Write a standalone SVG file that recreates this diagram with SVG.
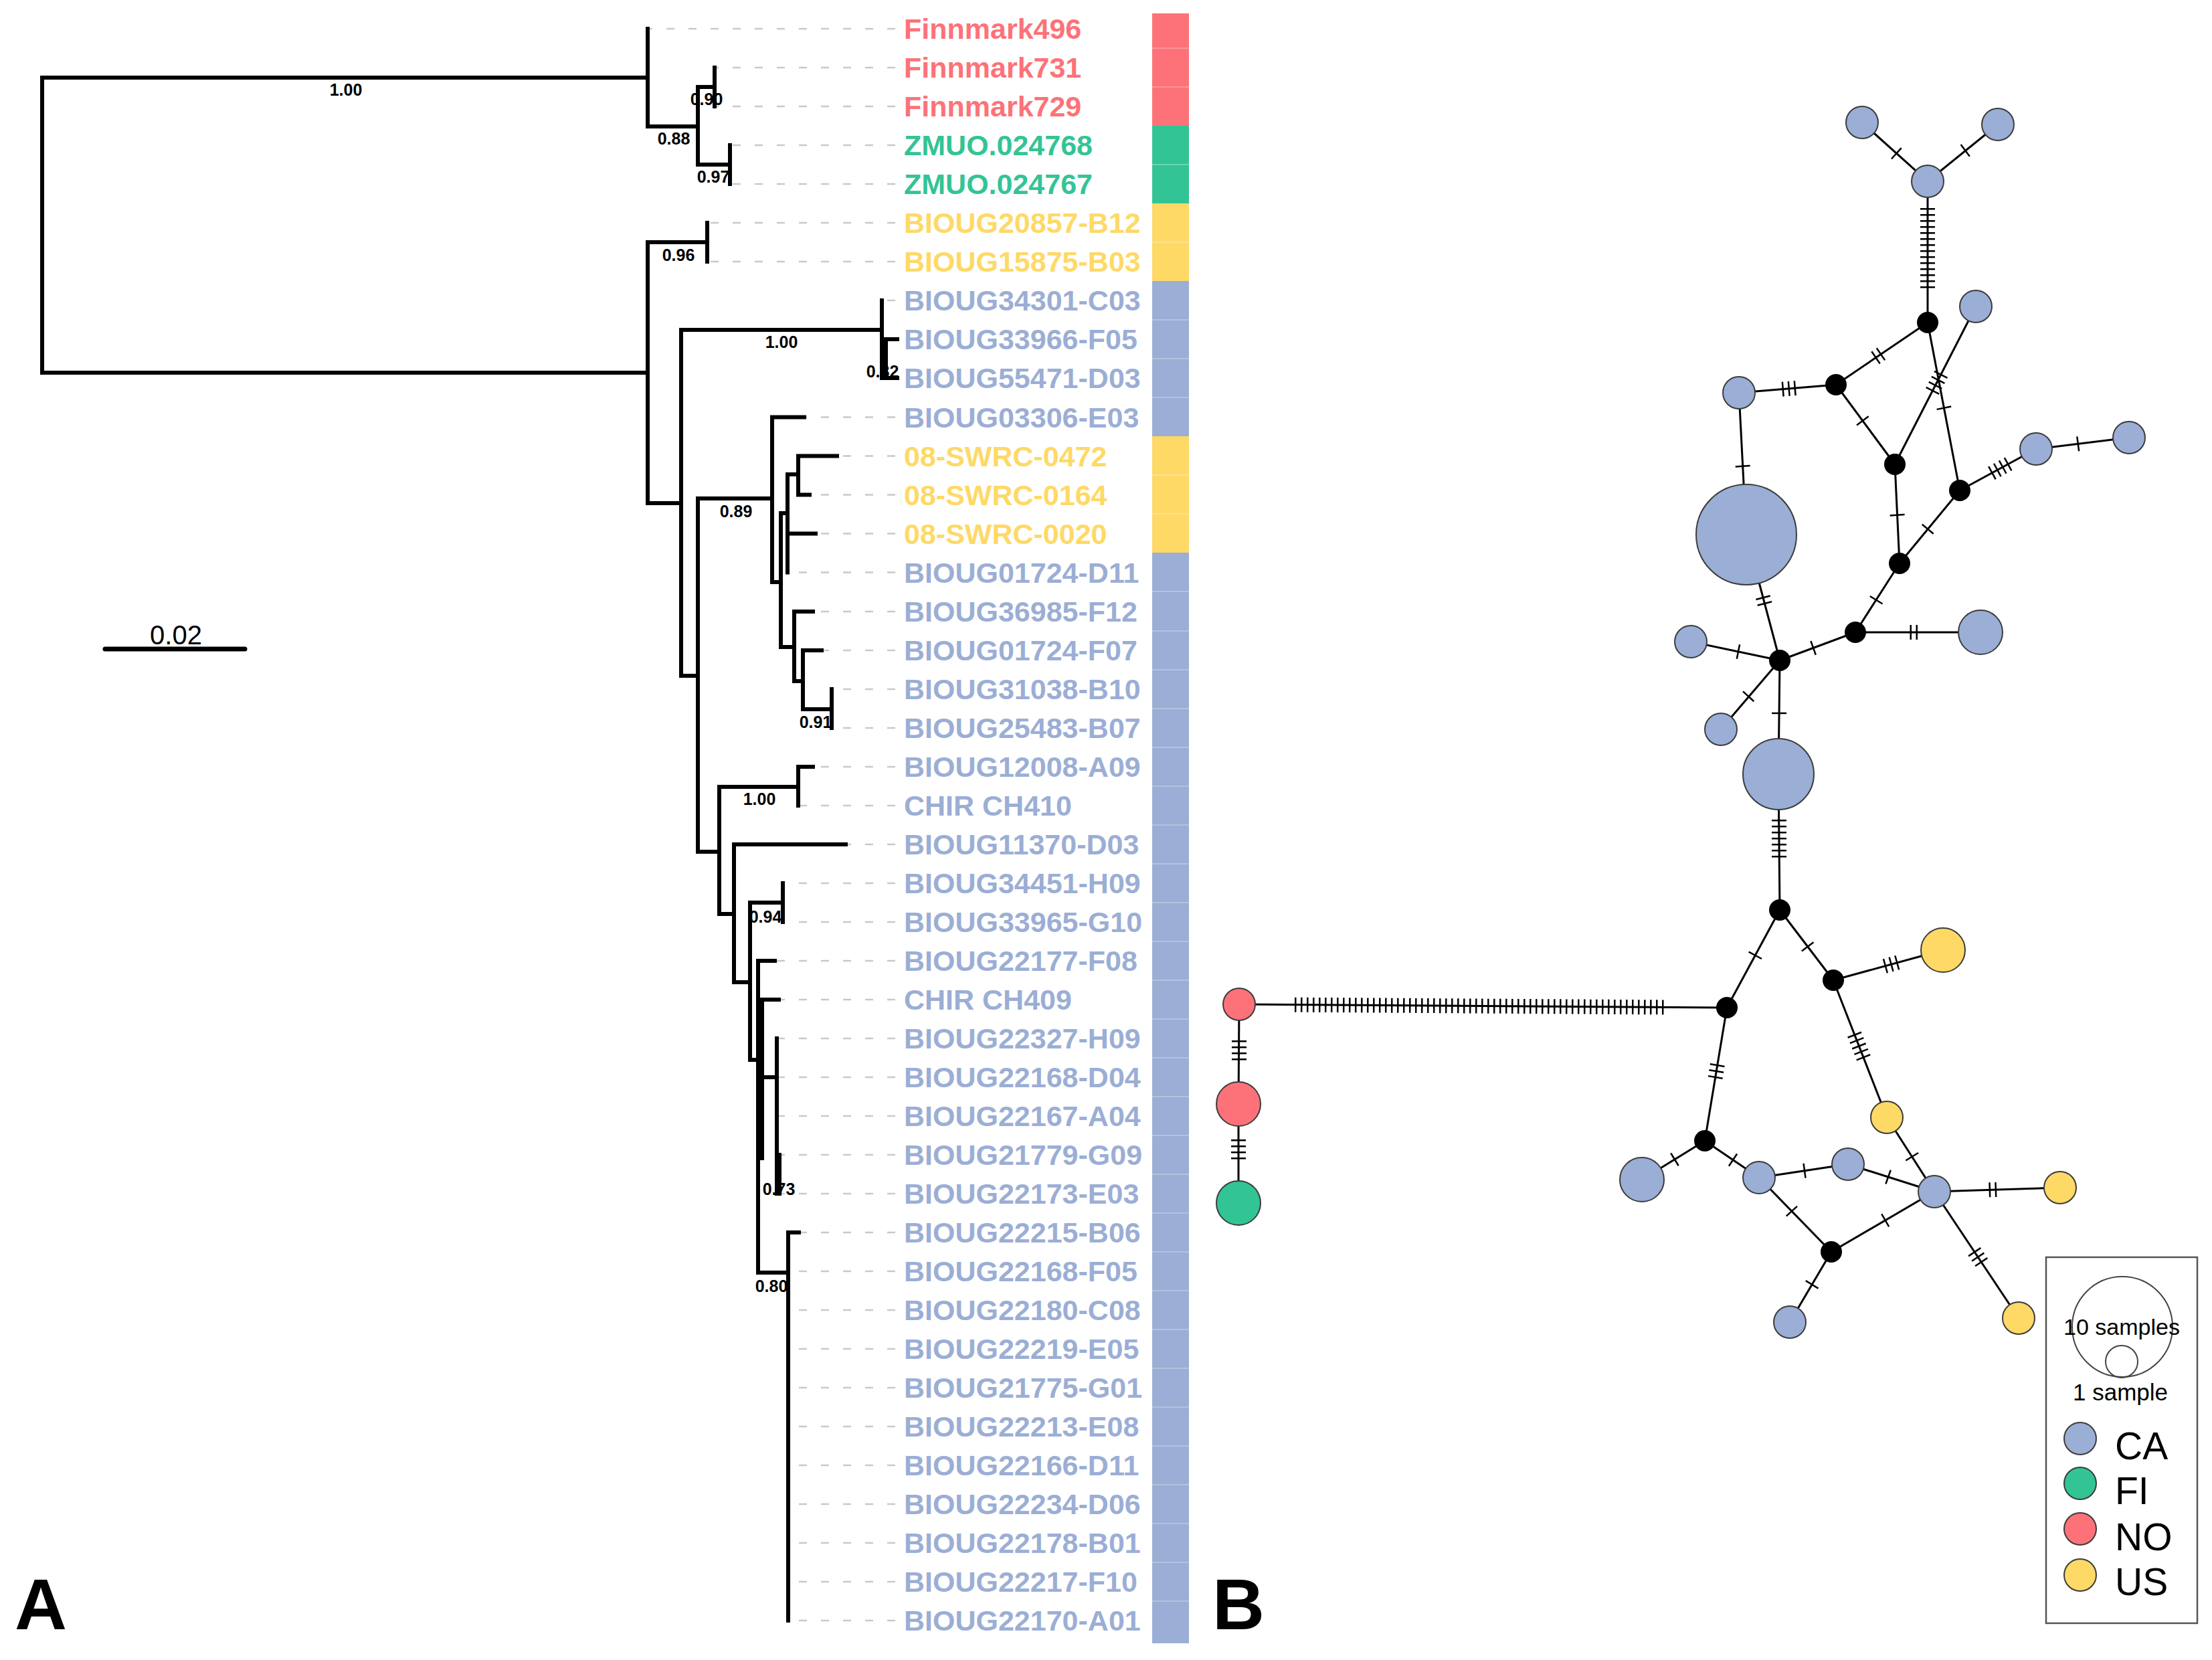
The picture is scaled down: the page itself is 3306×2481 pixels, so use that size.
<svg xmlns="http://www.w3.org/2000/svg" width="3306" height="2481" viewBox="0 0 3306 2481">
<style>
.tr{fill:none;stroke:#000;stroke-width:6;stroke-linecap:square}
.ld{stroke:#c9c9c9;stroke-width:2.5;stroke-dasharray:12 21}
.lb{font-family:"Liberation Sans",Arial,sans-serif;font-weight:bold;font-size:43px}
.sp{font-family:"Liberation Sans",Arial,sans-serif;font-weight:bold;font-size:25px;text-anchor:middle;fill:#000}
.r{fill:#FD7278}.g{fill:#33C495}.y{fill:#FED966}.b{fill:#9BAED5}
.e{stroke:#000;stroke-width:3;fill:none}
.tk{stroke:#000;stroke-width:22;stroke-dasharray:2.5 6.5}
.nd{stroke:#3c3c3c;stroke-width:2}
.blk{fill:#000}
.sep{stroke:#ffffff;stroke-opacity:0.25;stroke-width:2}
.pl{font-family:"Liberation Sans",Arial,sans-serif;font-weight:bold;font-size:108px;fill:#000}
.lg{font-family:"Liberation Sans",Arial,sans-serif;fill:#000}
</style>
<rect width="3306" height="2481" fill="#fff"/>

<g id="leaders">
<line class="ld" x1="1338" y1="43" x2="968" y2="43"/>
<line class="ld" x1="1338" y1="101" x2="1068" y2="101"/>
<line class="ld" x1="1338" y1="159" x2="1068" y2="159"/>
<line class="ld" x1="1338" y1="217" x2="1091" y2="217"/>
<line class="ld" x1="1338" y1="275" x2="1091" y2="275"/>
<line class="ld" x1="1338" y1="333" x2="1057" y2="333"/>
<line class="ld" x1="1338" y1="391" x2="1057" y2="391"/>
<line class="ld" x1="1338" y1="449" x2="1318" y2="449"/>
<line class="ld" x1="1338" y1="507" x2="1341" y2="507"/>
<line class="ld" x1="1338" y1="565" x2="1341" y2="565"/>
<line class="ld" x1="1338" y1="623.5" x2="1202" y2="623.5"/>
<line class="ld" x1="1338" y1="681.5" x2="1251" y2="681.5"/>
<line class="ld" x1="1338" y1="739.5" x2="1210" y2="739.5"/>
<line class="ld" x1="1338" y1="797.5" x2="1219" y2="797.5"/>
<line class="ld" x1="1338" y1="855.5" x2="1177" y2="855.5"/>
<line class="ld" x1="1338" y1="914" x2="1215" y2="914"/>
<line class="ld" x1="1338" y1="972" x2="1228" y2="972"/>
<line class="ld" x1="1338" y1="1030" x2="1243" y2="1030"/>
<line class="ld" x1="1338" y1="1088" x2="1243" y2="1088"/>
<line class="ld" x1="1338" y1="1146" x2="1215" y2="1146"/>
<line class="ld" x1="1338" y1="1204" x2="1193" y2="1204"/>
<line class="ld" x1="1338" y1="1262" x2="1264" y2="1262"/>
<line class="ld" x1="1338" y1="1320" x2="1170" y2="1320"/>
<line class="ld" x1="1338" y1="1378" x2="1170" y2="1378"/>
<line class="ld" x1="1338" y1="1436" x2="1158" y2="1436"/>
<line class="ld" x1="1338" y1="1494" x2="1164" y2="1494"/>
<line class="ld" x1="1338" y1="1552" x2="1161" y2="1552"/>
<line class="ld" x1="1338" y1="1610" x2="1161" y2="1610"/>
<line class="ld" x1="1338" y1="1668" x2="1163" y2="1668"/>
<line class="ld" x1="1338" y1="1726" x2="1165" y2="1726"/>
<line class="ld" x1="1338" y1="1784" x2="1165" y2="1784"/>
<line class="ld" x1="1338" y1="1842" x2="1194" y2="1842"/>
<line class="ld" x1="1338" y1="1900" x2="1178" y2="1900"/>
<line class="ld" x1="1338" y1="1958" x2="1178" y2="1958"/>
<line class="ld" x1="1338" y1="2016" x2="1178" y2="2016"/>
<line class="ld" x1="1338" y1="2074" x2="1178" y2="2074"/>
<line class="ld" x1="1338" y1="2132" x2="1178" y2="2132"/>
<line class="ld" x1="1338" y1="2190" x2="1178" y2="2190"/>
<line class="ld" x1="1338" y1="2248" x2="1178" y2="2248"/>
<line class="ld" x1="1338" y1="2306" x2="1178" y2="2306"/>
<line class="ld" x1="1338" y1="2364" x2="1178" y2="2364"/>
<line class="ld" x1="1338" y1="2422" x2="1178" y2="2422"/>
</g>

<g id="tree">
<path class="tr" d="M63,116V557 M63,116H968 M63,557H968
M968,43V189 M968,189H1043
M1043,130V246 M1043,130H1068 M1043,246H1091
M1068,101V159 M1091,217V275
M968,362V752 M968,362H1057 M968,752H1018
M1057,333V391
M1018,493V1010 M1018,493H1318 M1018,1010H1043
M1318,449V565 M1324,507V565 M1322,507H1341 M1318,565H1341
M1043,745V1273 M1043,745H1154 M1043,1273H1075
M1154,623.5V870 M1154,623.5H1202 M1154,870H1167
M1167,767V967 M1167,767H1177 M1167,967H1187
M1177,709V855.5 M1177,709H1193 M1177,797.5H1219
M1193,681.5V739.5 M1193,681.5H1251 M1193,739.5H1210
M1187,914V1018 M1187,914H1215 M1187,1018H1200
M1200,972V1060 M1200,972H1228 M1200,1060H1243
M1243,1030V1088
M1075,1176V1366 M1075,1176H1193 M1075,1366H1097
M1193,1146V1204 M1193,1146H1215
M1097,1262V1468 M1097,1262H1264 M1097,1468H1121
M1121,1349V1584 M1121,1349H1170 M1121,1584H1133
M1170,1320V1378
M1133,1436V1902 M1133,1436H1158 M1133,1902H1178
M1139,1494V1731 M1139,1494H1164 M1139,1610H1161
M1161,1552V1784 M1165,1726V1784
M1178,1842V2422 M1178,1842H1194"/>
</g>

<g id="support">
<text class="sp" x="517" y="143">1.00</text>
<text class="sp" x="1056" y="157">0.90</text>
<text class="sp" x="1007" y="216">0.88</text>
<text class="sp" x="1066" y="273">0.97</text>
<text class="sp" x="1014" y="390">0.96</text>
<text class="sp" x="1168" y="520">1.00</text>
<text class="sp" x="1319" y="564">0.82</text>
<text class="sp" x="1100" y="773">0.89</text>
<text class="sp" x="1219" y="1088">0.91</text>
<text class="sp" x="1135" y="1203">1.00</text>
<text class="sp" x="1144" y="1379">0.94</text>
<text class="sp" x="1164" y="1786">0.73</text>
<text class="sp" x="1153" y="1931">0.80</text>
</g>

<g id="labels">
<text class="lb r" x="1351" y="58">Finnmark496</text>
<text class="lb r" x="1351" y="116">Finnmark731</text>
<text class="lb r" x="1351" y="174">Finnmark729</text>
<text class="lb g" x="1351" y="232">ZMUO.024768</text>
<text class="lb g" x="1351" y="290">ZMUO.024767</text>
<text class="lb y" x="1351" y="348">BIOUG20857-B12</text>
<text class="lb y" x="1351" y="406">BIOUG15875-B03</text>
<text class="lb b" x="1351" y="464">BIOUG34301-C03</text>
<text class="lb b" x="1351" y="522">BIOUG33966-F05</text>
<text class="lb b" x="1351" y="580">BIOUG55471-D03</text>
<text class="lb b" x="1351" y="638.5">BIOUG03306-E03</text>
<text class="lb y" x="1351" y="696.5">08-SWRC-0472</text>
<text class="lb y" x="1351" y="754.5">08-SWRC-0164</text>
<text class="lb y" x="1351" y="812.5">08-SWRC-0020</text>
<text class="lb b" x="1351" y="870.5">BIOUG01724-D11</text>
<text class="lb b" x="1351" y="929">BIOUG36985-F12</text>
<text class="lb b" x="1351" y="987">BIOUG01724-F07</text>
<text class="lb b" x="1351" y="1045">BIOUG31038-B10</text>
<text class="lb b" x="1351" y="1103">BIOUG25483-B07</text>
<text class="lb b" x="1351" y="1161">BIOUG12008-A09</text>
<text class="lb b" x="1351" y="1219">CHIR CH410</text>
<text class="lb b" x="1351" y="1277">BIOUG11370-D03</text>
<text class="lb b" x="1351" y="1335">BIOUG34451-H09</text>
<text class="lb b" x="1351" y="1393">BIOUG33965-G10</text>
<text class="lb b" x="1351" y="1451">BIOUG22177-F08</text>
<text class="lb b" x="1351" y="1509">CHIR CH409</text>
<text class="lb b" x="1351" y="1567">BIOUG22327-H09</text>
<text class="lb b" x="1351" y="1625">BIOUG22168-D04</text>
<text class="lb b" x="1351" y="1683">BIOUG22167-A04</text>
<text class="lb b" x="1351" y="1741">BIOUG21779-G09</text>
<text class="lb b" x="1351" y="1799">BIOUG22173-E03</text>
<text class="lb b" x="1351" y="1857">BIOUG22215-B06</text>
<text class="lb b" x="1351" y="1915">BIOUG22168-F05</text>
<text class="lb b" x="1351" y="1973">BIOUG22180-C08</text>
<text class="lb b" x="1351" y="2031">BIOUG22219-E05</text>
<text class="lb b" x="1351" y="2089">BIOUG21775-G01</text>
<text class="lb b" x="1351" y="2147">BIOUG22213-E08</text>
<text class="lb b" x="1351" y="2205">BIOUG22166-D11</text>
<text class="lb b" x="1351" y="2263">BIOUG22234-D06</text>
<text class="lb b" x="1351" y="2321">BIOUG22178-B01</text>
<text class="lb b" x="1351" y="2379">BIOUG22217-F10</text>
<text class="lb b" x="1351" y="2437">BIOUG22170-A01</text>
</g>

<g id="colorbar">
<rect class="r" x="1722" y="20" width="55" height="168"/>
<rect class="g" x="1722" y="188" width="55" height="116"/>
<rect class="y" x="1722" y="304" width="55" height="116"/>
<rect class="b" x="1722" y="420" width="55" height="232"/>
<rect class="y" x="1722" y="652" width="55" height="174"/>
<rect class="b" x="1722" y="826" width="55" height="1630"/>
<path class="sep" d="M1722,72H1777 M1722,130H1777 M1722,246H1777 M1722,362H1777 M1722,478H1777 M1722,536H1777 M1722,594H1777 M1722,710H1777 M1722,768H1777 M1722,884H1777 M1722,943H1777 M1722,1001H1777 M1722,1059H1777 M1722,1117H1777 M1722,1175H1777 M1722,1233H1777 M1722,1291H1777 M1722,1349H1777 M1722,1407H1777 M1722,1465H1777 M1722,1523H1777 M1722,1581H1777 M1722,1639H1777 M1722,1697H1777 M1722,1755H1777 M1722,1813H1777 M1722,1871H1777 M1722,1929H1777 M1722,1987H1777 M1722,2045H1777 M1722,2103H1777 M1722,2161H1777 M1722,2219H1777 M1722,2277H1777 M1722,2335H1777 M1722,2393H1777"/>
</g>

<g id="scalebar">
<line x1="157" y1="970" x2="366" y2="970" stroke="#000" stroke-width="7" stroke-linecap="round"/>
<text class="lg" x="263" y="963" font-size="40" text-anchor="middle">0.02</text>
</g>

<g id="panel-labels">
<text class="pl" x="22" y="2435">A</text>
<text class="pl" x="1812" y="2435">B</text>
</g>

<g id="connectors">
<line class="e" x1="2783" y1="183" x2="2881" y2="271"/>
<line class="e" x1="2986" y1="186" x2="2881" y2="271"/>
<line class="e" x1="2881" y1="271" x2="2881" y2="482"/>
<line class="e" x1="2881" y1="482" x2="2744" y2="575"/>
<line class="e" x1="2599" y1="587" x2="2744" y2="575"/>
<line class="e" x1="2744" y1="575" x2="2832" y2="694"/>
<line class="e" x1="2953" y1="458" x2="2832" y2="694"/>
<line class="e" x1="2881" y1="482" x2="2929" y2="733"/>
<line class="e" x1="2832" y1="694" x2="2839" y2="842"/>
<line class="e" x1="2929" y1="733" x2="2839" y2="842"/>
<line class="e" x1="2929" y1="733" x2="3043" y2="671"/>
<line class="e" x1="3043" y1="671" x2="3182" y2="654"/>
<line class="e" x1="2839" y1="842" x2="2773" y2="945"/>
<line class="e" x1="2599" y1="587" x2="2610" y2="799"/>
<line class="e" x1="2610" y1="799" x2="2660" y2="987"/>
<line class="e" x1="2527" y1="959" x2="2660" y2="987"/>
<line class="e" x1="2660" y1="987" x2="2773" y2="945"/>
<line class="e" x1="2773" y1="945" x2="2960" y2="945"/>
<line class="e" x1="2660" y1="987" x2="2572" y2="1090"/>
<line class="e" x1="2660" y1="987" x2="2658" y2="1157"/>
<line class="e" x1="2658" y1="1157" x2="2660" y2="1360"/>
<line class="e" x1="2660" y1="1360" x2="2581" y2="1506"/>
<line class="e" x1="2660" y1="1360" x2="2740" y2="1465"/>
<line class="e" x1="2740" y1="1465" x2="2904" y2="1420"/>
<line class="e" x1="1852" y1="1501" x2="2581" y2="1506"/>
<line class="e" x1="1852" y1="1501" x2="1851" y2="1650"/>
<line class="e" x1="1851" y1="1650" x2="1851" y2="1798"/>
<line class="e" x1="2581" y1="1506" x2="2548" y2="1705"/>
<line class="e" x1="2740" y1="1465" x2="2820" y2="1670"/>
<line class="e" x1="2548" y1="1705" x2="2454" y2="1763"/>
<line class="e" x1="2548" y1="1705" x2="2629" y2="1760"/>
<line class="e" x1="2629" y1="1760" x2="2762" y2="1740"/>
<line class="e" x1="2762" y1="1740" x2="2891" y2="1781"/>
<line class="e" x1="2820" y1="1670" x2="2891" y2="1781"/>
<line class="e" x1="2891" y1="1781" x2="3079" y2="1775"/>
<line class="e" x1="2629" y1="1760" x2="2737" y2="1871"/>
<line class="e" x1="2737" y1="1871" x2="2891" y2="1781"/>
<line class="e" x1="2737" y1="1871" x2="2675" y2="1976"/>
<line class="e" x1="2891" y1="1781" x2="3017" y2="1970"/>
<g id="mutation-ticks">
<line class="tk" x1="2833.4" y1="228.5" x2="2835.6" y2="230.5"/>
<line class="tk" x1="2938.2" y1="224.1" x2="2935.8" y2="225.9"/>
<line class="tk" x1="2881" y1="311" x2="2881" y2="431"/>
<line class="tk" x1="2812" y1="528.6" x2="2802" y2="535.4"/>
<line class="tk" x1="2663.5" y1="581.7" x2="2684.5" y2="580"/>
<line class="tk" x1="2783.1" y1="627.8" x2="2784.9" y2="630.2"/>
<line class="tk" x1="2901.3" y1="558.7" x2="2887.7" y2="585.3"/>
<line class="tk" x1="2905.2" y1="608.5" x2="2905.8" y2="611.5"/>
<line class="tk" x1="2835.5" y1="768.5" x2="2835.7" y2="771.5"/>
<line class="tk" x1="2882" y1="789.8" x2="2880" y2="792.2"/>
<line class="tk" x1="2976.3" y1="707.3" x2="3002.7" y2="692.9"/>
<line class="tk" x1="3104.5" y1="663.5" x2="3107.5" y2="663.1"/>
<line class="tk" x1="2804.8" y1="895.7" x2="2803.2" y2="898.3"/>
<line class="tk" x1="2604.6" y1="695.5" x2="2604.8" y2="698.5"/>
<line class="tk" x1="2634.8" y1="892.1" x2="2637.8" y2="903.7"/>
<line class="tk" x1="2596.7" y1="973.7" x2="2599.7" y2="974.3"/>
<line class="tk" x1="2708.9" y1="968.8" x2="2711.7" y2="967.8"/>
<line class="tk" x1="2854.5" y1="945" x2="2866.5" y2="945"/>
<line class="tk" x1="2614" y1="1039.9" x2="2612" y2="1042.1"/>
<line class="tk" x1="2659" y1="1064.7" x2="2659" y2="1067.7"/>
<line class="tk" x1="2659" y1="1225" x2="2659" y2="1282"/>
<line class="tk" x1="2623.9" y1="1426.7" x2="2622.5" y2="1429.3"/>
<line class="tk" x1="2700.9" y1="1413.8" x2="2702.7" y2="1416.2"/>
<line class="tk" x1="2816.7" y1="1444" x2="2836.9" y2="1438.4"/>
<line class="tk" x1="1935" y1="1501.7" x2="2487" y2="1505.4"/>
<line class="tk" x1="1852" y1="1555" x2="1852" y2="1584.5"/>
<line class="tk" x1="1851" y1="1703" x2="1851" y2="1732.5"/>
<line class="tk" x1="2566.9" y1="1590.9" x2="2563.5" y2="1611.6"/>
<line class="tk" x1="2771.4" y1="1545.6" x2="2785.4" y2="1581.4"/>
<line class="tk" x1="2504" y1="1732.2" x2="2501.4" y2="1733.8"/>
<line class="tk" x1="2589" y1="1732.9" x2="2591.4" y2="1734.5"/>
<line class="tk" x1="2695.8" y1="1749.9" x2="2698.8" y2="1749.5"/>
<line class="tk" x1="2820.9" y1="1758.7" x2="2823.7" y2="1759.7"/>
<line class="tk" x1="2857" y1="1727.7" x2="2858.6" y2="1730.3"/>
<line class="tk" x1="2972.6" y1="1778.3" x2="2984.6" y2="1777.9"/>
<line class="tk" x1="2677" y1="1809.3" x2="2679" y2="1811.5"/>
<line class="tk" x1="2816.6" y1="1824.5" x2="2819.2" y2="1823"/>
<line class="tk" x1="2708.8" y1="1918.8" x2="2707.2" y2="1921.4"/>
<line class="tk" x1="2950.5" y1="1870.2" x2="2962.1" y2="1887.6"/>
</g>
</g>

<g id="haplotypes">
<circle id="h1" class="nd b" cx="2783" cy="183" r="24"/>
<circle id="h2" class="nd b" cx="2986" cy="186" r="24"/>
<circle id="h3" class="nd b" cx="2881" cy="271" r="24"/>
<circle id="m4" class="blk" cx="2881" cy="482" r="16"/>
<circle id="h5" class="nd b" cx="2953" cy="458" r="24"/>
<circle id="h6" class="nd b" cx="2599" cy="587" r="24"/>
<circle id="m7" class="blk" cx="2744" cy="575" r="16"/>
<circle id="m8" class="blk" cx="2832" cy="694" r="16"/>
<circle id="m9" class="blk" cx="2929" cy="733" r="16"/>
<circle id="h10" class="nd b" cx="3043" cy="671" r="24"/>
<circle id="h11" class="nd b" cx="3182" cy="654" r="24"/>
<circle id="hbig" class="nd b" cx="2610" cy="799" r="75"/>
<circle id="m12" class="blk" cx="2839" cy="842" r="16"/>
<circle id="m13" class="blk" cx="2773" cy="945" r="16"/>
<circle id="h14" class="nd b" cx="2960" cy="945" r="33"/>
<circle id="m15" class="blk" cx="2660" cy="987" r="16"/>
<circle id="h16" class="nd b" cx="2527" cy="959" r="24"/>
<circle id="h17" class="nd b" cx="2572" cy="1090" r="24"/>
<circle id="h18" class="nd b" cx="2658" cy="1157" r="53"/>
<circle id="m19" class="blk" cx="2660" cy="1360" r="16"/>
<circle id="h20" class="nd y" cx="2904" cy="1420" r="33"/>
<circle id="m21" class="blk" cx="2740" cy="1465" r="16"/>
<circle id="m22" class="blk" cx="2581" cy="1506" r="16"/>
<circle id="h23" class="nd r" cx="1852" cy="1501" r="24"/>
<circle id="h24" class="nd r" cx="1851" cy="1650" r="33"/>
<circle id="h25" class="nd g" cx="1851" cy="1798" r="33"/>
<circle id="h26" class="nd y" cx="2820" cy="1670" r="24"/>
<circle id="m27" class="blk" cx="2548" cy="1705" r="16"/>
<circle id="h28" class="nd b" cx="2454" cy="1763" r="33"/>
<circle id="h29" class="nd b" cx="2629" cy="1760" r="24"/>
<circle id="h30" class="nd b" cx="2762" cy="1740" r="24"/>
<circle id="h31" class="nd b" cx="2891" cy="1781" r="24"/>
<circle id="h32" class="nd y" cx="3079" cy="1775" r="24"/>
<circle id="m33" class="blk" cx="2737" cy="1871" r="16"/>
<circle id="h34" class="nd b" cx="2675" cy="1976" r="24"/>
<circle id="h35" class="nd y" cx="3017" cy="1970" r="24"/>
</g>

<g id="legend">
<rect x="3058" y="1879" width="226" height="547" fill="#fff" stroke="#555" stroke-width="2.5"/>
<circle cx="3172" cy="1983" r="75" fill="none" stroke="#444" stroke-width="2"/>
<circle cx="3171" cy="2035" r="24" fill="none" stroke="#444" stroke-width="2"/>
<text class="lg" x="3171" y="1995" font-size="34" text-anchor="middle">10 samples</text>
<text class="lg" x="3169" y="2093" font-size="35" text-anchor="middle">1 sample</text>
<circle class="nd b" cx="3109" cy="2150" r="24"/>
<circle class="nd g" cx="3109" cy="2217" r="24"/>
<circle class="nd r" cx="3109" cy="2285" r="24"/>
<circle class="nd y" cx="3109" cy="2354" r="24"/>
<text class="lg" x="3161" y="2181" font-size="57">CA</text>
<text class="lg" x="3161" y="2248" font-size="57">FI</text>
<text class="lg" x="3161" y="2317" font-size="57">NO</text>
<text class="lg" x="3161" y="2384" font-size="57">US</text>
</g>
</svg>
